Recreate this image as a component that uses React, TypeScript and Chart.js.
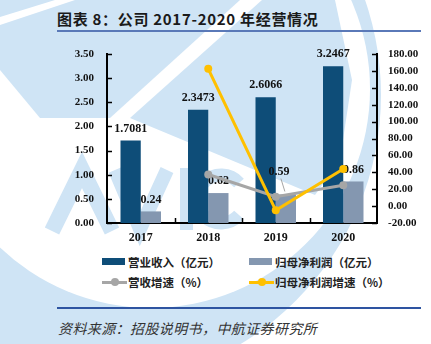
import React, { useEffect, useRef } from "react";
import { Chart, registerables } from "chart.js";

Chart.register(...registerables);

// ---------- data ----------
const categories = ["2017", "2018", "2019", "2020"];
const revenue = [1.7081, 2.3473, 2.6066, 3.2467];
const netProfit = [0.24, 0.62, 0.59, 0.86];
const revenueGrowth = [null, 37.42, 11.05, 24.56];
const profitGrowth = [null, 162.4, -5.0, 44.0];
const revenueLabels = ["1.7081", "2.3473", "2.6066", "3.2467"];
const profitLabels = ["0.24", "0.62", "0.59", "0.86"];
const leftAxis = { min: 0, max: 3.5, step: 0.5 };
const rightAxis = { min: -20, max: 180, step: 20 };

const seriesNames = ["营业收入（亿元）", "归母净利润（亿元）", "营收增速（%）", "归母净利润增速（%）"];
const titleText = "图表 8：公司 2017-2020 年经营情况";
const sourceText = "资料来源：招股说明书，中航证券研究所";

// ---------- style ----------
const C_REV = "#0E4D78";
const C_PROFIT = "#8497B0";
const C_GROWTH = "#A6A6A6";
const C_PGROWTH = "#FFC000";
const WM = "#cfe4f5";
const SERIF = '"Liberation Serif", "Times New Roman", serif';
const CJK = '"Noto Sans CJK SC", "Noto Sans", sans-serif';

const tickMarks = {
  id: "tickMarks",
  afterDraw(chart: any) {
    const { ctx, chartArea: a, scales } = chart;
    ctx.save();
    ctx.strokeStyle = "#000";
    ctx.lineWidth = 1.5;
    const line = (x1: number, y1: number, x2: number, y2: number) => {
      ctx.beginPath();
      ctx.moveTo(x1, y1);
      ctx.lineTo(x2, y2);
      ctx.stroke();
    };
    for (const t of scales.y.ticks) {
      const y = Math.round(scales.y.getPixelForValue(t.value)) + 0.5;
      line(a.left, y, a.left + 5, y);
    }
    for (const t of scales.y1.ticks) {
      const y = Math.round(scales.y1.getPixelForValue(t.value)) + 0.5;
      line(a.right - 5, y, a.right, y);
    }
    const n = scales.x.ticks.length;
    for (let i = 1; i < n; i++) {
      const x = Math.round((scales.x.getPixelForTick(i - 1) + scales.x.getPixelForTick(i)) / 2) + 0.5;
      line(x, a.bottom, x, a.bottom - 5);
    }
    ctx.restore();
  },
};

// draws every bar's value label once the last bar dataset is drawn (before the lines)
const barLabels = {
  id: "barLabels",
  afterDatasetDraw(chart: any, args: any) {
    const host: any = chart.data.datasets[args.index];
    if (!host.labelsHost) return;
    const { ctx } = chart;
    ctx.save();
    ctx.font = `bold 12px ${SERIF}`;
    ctx.fillStyle = "#111";
    ctx.textAlign = "center";
    ctx.textBaseline = "middle";
    chart.data.datasets.forEach((ds: any, j: number) => {
      if (!ds.valueLabels) return;
      const meta = chart.getDatasetMeta(j);
      meta.data.forEach((bar: any, i: number) => {
        const off = (ds.labelOffsets && ds.labelOffsets[i]) || { dx: 0, dy: 0 };
        const x = bar.x + off.dx;
        const y = bar.y - 12 + off.dy;
        if (off.leader) {
          ctx.strokeStyle = "#A6A6A6";
          ctx.lineWidth = 1;
          ctx.beginPath();
          ctx.moveTo(x + 2, y + 7);
          ctx.lineTo(bar.x - 1, bar.y - 3);
          ctx.stroke();
        }
        ctx.fillText(ds.valueLabels[i], x, y);
      });
    });
    ctx.restore();
  },
};

function ChartCanvas() {
  const ref = useRef<HTMLCanvasElement | null>(null);
  useEffect(() => {
    if (!ref.current) return;
    const tickFont = { family: SERIF, size: 11, weight: "bold" as const };
    const chart = new Chart(ref.current, {
      type: "bar",
      data: {
        labels: categories,
        datasets: [
          {
            type: "line",
            label: seriesNames[3],
            data: profitGrowth,
            yAxisID: "y1",
            borderColor: C_PGROWTH,
            backgroundColor: C_PGROWTH,
            borderWidth: 3,
            pointRadius: 4,
            pointBorderWidth: 0,
            pointBackgroundColor: C_PGROWTH,
            order: 0,
          } as any,
          {
            type: "line",
            label: seriesNames[2],
            data: revenueGrowth,
            yAxisID: "y1",
            borderColor: C_GROWTH,
            backgroundColor: C_GROWTH,
            borderWidth: 3,
            pointRadius: 4,
            pointBorderWidth: 0,
            pointBackgroundColor: C_GROWTH,
            order: 1,
          } as any,
          {
            type: "bar",
            label: seriesNames[0],
            data: revenue,
            yAxisID: "y",
            backgroundColor: C_REV,
            categoryPercentage: 0.6,
            barPercentage: 1,
            order: 2,
            valueLabels: revenueLabels,
            labelsHost: true,
          } as any,
          {
            type: "bar",
            label: seriesNames[1],
            data: netProfit,
            yAxisID: "y",
            backgroundColor: C_PROFIT,
            categoryPercentage: 0.6,
            barPercentage: 1,
            order: 2,
            valueLabels: profitLabels,
            labelOffsets: [null, null, { dx: -7, dy: -11, leader: true }, null],
          } as any,
        ],
      },
      options: {
        animation: false,
        responsive: false,
        maintainAspectRatio: false,
        layout: { padding: { top: 54, left: 0, right: 0, bottom: 0 } },
        plugins: { legend: { display: false }, tooltip: { enabled: false } },
        scales: {
          x: {
            type: "category",
            offset: true,
            grid: { display: false, drawTicks: false },
            border: { display: true, color: "#000", width: 2 },
            ticks: { color: "#111", font: { family: SERIF, size: 12, weight: "bold" }, padding: 8 },
            afterFit: (s: any) => {
              s.height = 27;
            },
          },
          y: {
            type: "linear",
            position: "left",
            min: leftAxis.min,
            max: leftAxis.max,
            grid: { display: false, drawTicks: false },
            border: { display: true, color: "#000", width: 2 },
            ticks: {
              stepSize: leftAxis.step,
              color: "#111",
              font: tickFont,
              padding: 13,
              callback: (v: any) => Number(v).toFixed(2),
            },
            afterFit: (s: any) => {
              s.width = 107;
            },
          },
          y1: {
            type: "linear",
            position: "right",
            min: rightAxis.min,
            max: rightAxis.max,
            grid: { display: false, drawTicks: false },
            border: { display: true, color: "#000", width: 2 },
            ticks: {
              stepSize: rightAxis.step,
              color: "#111",
              font: tickFont,
              padding: 11,
              callback: (v: any) => Number(v).toFixed(2),
            },
            afterFit: (s: any) => {
              s.width = 54;
            },
          },
        },
      } as any,
      plugins: [tickMarks, barLabels],
    });
    return () => chart.destroy();
  }, []);
  return (
    <canvas
      ref={ref}
      width={431}
      height={250}
      style={{ position: "absolute", left: 0, top: 0, width: 431, height: 250 }}
    />
  );
}

function Watermark() {
  return (
    <svg width={431} height={344} style={{ position: "absolute", left: 0, top: 0 }}>
      <circle cx={90} cy={95} r={291} fill={WM} />
      <circle cx={151} cy={89} r={219} fill="#fff" />
      <polygon points="0,0 55,0 0,17" fill={WM} />
      <polygon points="0,25 75,0 240,0 110,118 40,118 0,70" fill={WM} />
      <polygon points="262,0 335,0 352,80 340,160 315,195 130,118" fill={WM} />
      <path d="M52,231 L82,170 L112,231" stroke={WM} strokeWidth={16} fill="none" />
      <path d="M115,170 L140,229 L167,170" stroke={WM} strokeWidth={14} fill="none" />
      <rect x={180} y={168} width={13} height={62} fill={WM} />
      <path d="M239,183 A24,24 0 1 0 239,215" stroke={WM} strokeWidth={13} fill="none" />
    </svg>
  );
}

function LegendItem(props: { left: number; cy: number; kind: "bar" | "line"; color: string; text: string }) {
  const { left, cy, kind, color, text } = props;
  return (
    <>
      {kind === "bar" ? (
        <div style={{ position: "absolute", left, top: cy - 4, width: 23, height: 7, background: color }} />
      ) : (
        <>
          <div style={{ position: "absolute", left, top: cy - 1.5, width: 25, height: 3, background: color }} />
          <div
            style={{
              position: "absolute",
              left: left + 8.5,
              top: cy - 4,
              width: 8,
              height: 8,
              borderRadius: 4,
              background: color,
            }}
          />
        </>
      )}
      <div
        style={{
          position: "absolute",
          left: left + 26,
          top: cy - 9,
          height: 18,
          lineHeight: "18px",
          fontFamily: CJK,
          fontSize: 11.5,
          fontWeight: 700,
          color: "#222",
          whiteSpace: "nowrap",
        }}
      >
        {text}
      </div>
    </>
  );
}

export default function App() {
  return (
    <div
      style={{
        position: "fixed",
        left: 0,
        top: 0,
        width: 431,
        height: 344,
        background: "#fff",
        overflow: "hidden",
      }}
    >
      <Watermark />
      <div
        style={{
          position: "absolute",
          left: 57,
          top: 8,
          height: 22,
          lineHeight: "22px",
          fontFamily: CJK,
          fontSize: 15,
          fontWeight: 700,
          letterSpacing: 0.7,
          color: "#1a1a1a",
          whiteSpace: "nowrap",
        }}
      >
        {titleText}
      </div>
      <div style={{ position: "absolute", left: 57, top: 30, width: 364, height: 2, background: "#5a79b8" }} />
      <ChartCanvas />
      <LegendItem left={102} cy={262} kind="bar" color={C_REV} text={seriesNames[0]} />
      <LegendItem left={249} cy={262} kind="bar" color={C_PROFIT} text={seriesNames[1]} />
      <LegendItem left={102} cy={282} kind="line" color={C_GROWTH} text={seriesNames[2]} />
      <LegendItem left={249} cy={282} kind="line" color={C_PGROWTH} text={seriesNames[3]} />
      <div style={{ position: "absolute", left: 57, top: 307, width: 364, height: 2, background: "#2e54a1" }} />
      <div
        style={{
          position: "absolute",
          left: 58,
          top: 318,
          height: 20,
          lineHeight: "20px",
          fontFamily: CJK,
          fontSize: 14,
          fontStyle: "italic",
          letterSpacing: 0.4,
          color: "#333",
          whiteSpace: "nowrap",
        }}
      >
        {sourceText}
      </div>
    </div>
  );
}
